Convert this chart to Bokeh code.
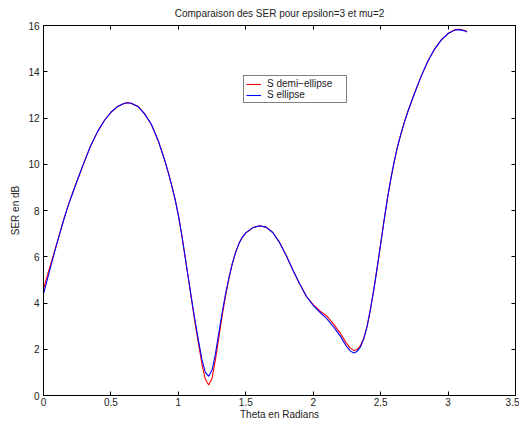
from bokeh.plotting import figure
from bokeh.models import (Range1d, LinearAxis, FixedTicker, Legend, LegendItem,
                          CustomLabelingPolicy)
from bokeh.embed import file_html
from bokeh.resources import INLINE

title_text = "Comparaison des SER pour epsilon=3 et mu=2"
x_label = "Theta en Radians"
y_label = "SER en dB"
x_ticks = [0, 0.5, 1, 1.5, 2, 2.5, 3, 3.5]
x_tick_labels = ["0", "0.5", "1", "1.5", "2", "2.5", "3", "3.5"]
y_ticks = [0, 2, 4, 6, 8, 10, 12, 14, 16]
y_tick_labels = ["0", "2", "4", "6", "8", "10", "12", "14", "16"]

theta = [0.00, 0.025, 0.05, 0.075, 0.10, 0.125, 0.15, 0.175, 0.20,
         0.25, 0.30, 0.35, 0.40, 0.45, 0.50, 0.55, 0.60, 0.625, 0.65,
         0.70, 0.75, 0.80, 0.85, 0.90,
         0.925, 0.95, 0.975, 1.00, 1.025, 1.05, 1.075, 1.10, 1.125, 1.15, 1.175, 1.20,
         1.225, 1.25, 1.275, 1.30, 1.325, 1.35, 1.375, 1.40, 1.425, 1.45, 1.475, 1.50,
         1.55, 1.60, 1.65, 1.70, 1.75, 1.80, 1.85, 1.90, 1.95, 2.00, 2.05, 2.10, 2.15, 2.20,
         2.225, 2.25, 2.275, 2.30, 2.325, 2.35, 2.375, 2.40, 2.425, 2.45, 2.475, 2.50,
         2.525, 2.55, 2.575, 2.60, 2.625, 2.65, 2.675, 2.70,
         2.75, 2.80, 2.85, 2.90, 2.95, 3.00, 3.05,
         3.075, 3.10, 3.125, 3.14]

s_ellipse = [4.40, 4.95, 5.50, 6.05, 6.58, 7.10, 7.60, 8.07, 8.50,
             9.30, 10.07, 10.80, 11.40, 11.88, 12.25, 12.50, 12.64, 12.66, 12.64,
             12.50, 12.18, 11.72, 11.03, 10.15,
             9.65, 9.10, 8.50, 7.80, 6.95, 6.00, 5.05, 4.10, 3.20, 2.35, 1.55, 1.00,
             0.83, 1.10, 1.80, 2.70, 3.60, 4.40, 5.10, 5.70, 6.20, 6.58, 6.85, 7.03,
             7.25, 7.34, 7.28, 7.05, 6.62, 6.05, 5.42, 4.82, 4.28, 3.90, 3.60, 3.32, 2.98, 2.58,
             2.33, 2.10, 1.93, 1.84, 1.90, 2.10, 2.45, 3.00, 3.75, 4.60, 5.55, 6.55,
             7.55, 8.50, 9.35, 10.10, 10.75, 11.30, 11.80, 12.25,
             13.05, 13.80, 14.45, 14.98, 15.38, 15.65, 15.80,
             15.82, 15.80, 15.76, 15.72]

s_demi_ellipse = [4.60, 5.12, 5.62, 6.10, 6.60, 7.10, 7.60, 8.07, 8.50,
                  9.30, 10.07, 10.80, 11.40, 11.88, 12.25, 12.50, 12.64, 12.66, 12.64,
                  12.50, 12.18, 11.72, 11.03, 10.15,
                  9.65, 9.10, 8.50, 7.80, 6.95, 6.00, 5.05, 4.05, 3.10, 2.22, 1.35, 0.70,
                  0.45, 0.75, 1.55, 2.50, 3.45, 4.30, 5.05, 5.70, 6.20, 6.58, 6.85, 7.03,
                  7.25, 7.34, 7.28, 7.05, 6.62, 6.05, 5.42, 4.82, 4.28, 3.93, 3.66, 3.44, 3.10, 2.70,
                  2.46, 2.23, 2.05, 1.95, 1.98, 2.16, 2.48, 3.00, 3.75, 4.60, 5.55, 6.55,
                  7.55, 8.50, 9.35, 10.10, 10.75, 11.30, 11.80, 12.25,
                  13.05, 13.80, 14.45, 14.98, 15.38, 15.65, 15.82,
                  15.84, 15.82, 15.78, 15.74]

FONT = "Liberation Sans"
TEXT_COLOR = "#222222"

p = figure(width=519, height=422, output_backend="svg", toolbar_location=None,
           x_range=Range1d(0, 3.5), y_range=Range1d(0, 16),
           min_border_left=43, min_border_right=0, min_border_top=25, min_border_bottom=24,
           x_axis_label=x_label, y_axis_label=y_label)
p.title.text = title_text
p.title.align = "center"
p.title.text_font = FONT
p.title.text_font_size = "10px"
p.title.text_font_style = "normal"
p.title.text_color = TEXT_COLOR
p.title.standoff = 5
p.grid.visible = False
p.outline_line_color = "black"
p.outline_line_width = 1
p.background_fill_color = "white"
p.border_fill_color = "white"

for ax in p.xaxis:
    ax.ticker = FixedTicker(ticks=x_ticks)
    ax.major_label_overrides = {t: l for t, l in zip(x_ticks, x_tick_labels)}
    ax.major_label_standoff = 2
    ax.axis_label_standoff = 0
for ax in p.yaxis:
    ax.ticker = FixedTicker(ticks=y_ticks)
    ax.major_label_overrides = {t: l for t, l in zip(y_ticks, y_tick_labels)}
    ax.major_label_standoff = 4
    ax.axis_label_standoff = 4

for ax in list(p.xaxis) + list(p.yaxis):
    ax.major_tick_in = 4
    ax.major_tick_out = 0
    ax.minor_tick_line_color = None
    ax.axis_line_color = "black"
    ax.major_tick_line_color = "black"
    ax.major_label_text_font = FONT
    ax.major_label_text_font_size = "10px"
    ax.major_label_text_color = TEXT_COLOR
    ax.axis_label_text_font = FONT
    ax.axis_label_text_font_size = "10px"
    ax.axis_label_text_font_style = "normal"
    ax.axis_label_text_color = TEXT_COLOR

hide_all = CustomLabelingPolicy(code="""
    for (const i of indices) { indices.unset(i) }
    return indices
""")
for loc in ["above", "right"]:
    ax = LinearAxis(ticker=FixedTicker(ticks=x_ticks if loc == "above" else y_ticks),
                    major_label_policy=hide_all, major_label_standoff=0,
                    major_label_text_font_size="1px",
                    major_tick_in=4, major_tick_out=0, minor_tick_line_color=None,
                    axis_line_color="black", major_tick_line_color="black")
    p.add_layout(ax, loc)

r_red = p.line(theta, s_demi_ellipse, line_color="#ff0000", line_width=1.1)
r_blue = p.line(theta, s_ellipse, line_color="#0000ff", line_width=1.1)

legend = Legend(items=[LegendItem(label="S demi\u2212ellipse", renderers=[r_red]),
                       LegendItem(label="S ellipse", renderers=[r_blue])],
                location=(200, 292))
legend.label_text_font = FONT
legend.label_text_font_size = "10px"
legend.label_text_color = TEXT_COLOR
legend.label_text_line_height = 0.8
legend.glyph_width = 15
legend.glyph_height = 8
legend.label_height = 8
legend.label_width = 77
legend.label_standoff = 6
legend.spacing = 0
legend.padding = 2
legend.margin = 0
legend.border_line_color = "black"
legend.border_line_width = 1
legend.background_fill_alpha = 1
p.add_layout(legend, "center")

open("out.html", "w").write(file_html(p, INLINE))
